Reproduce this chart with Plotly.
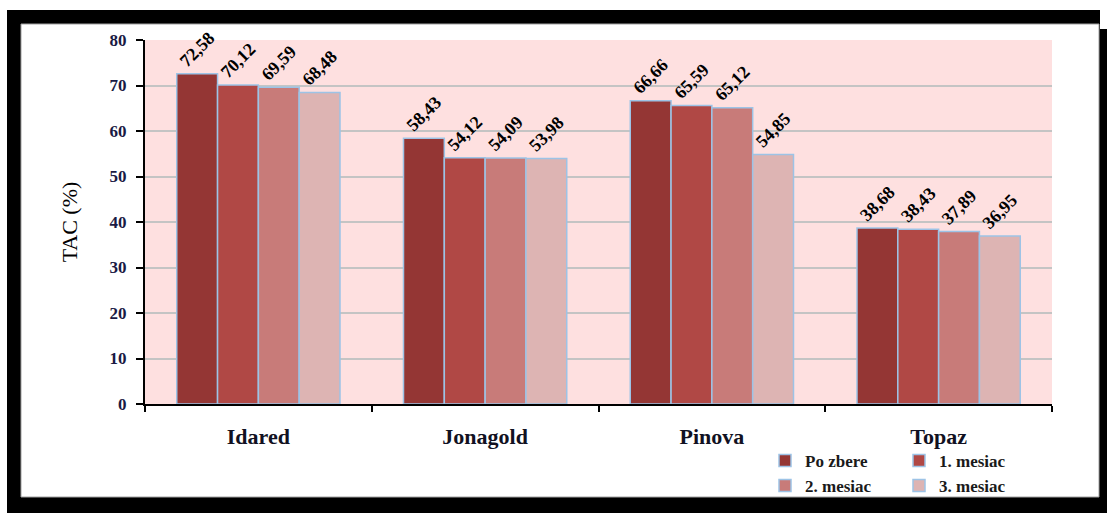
import plotly.graph_objects as go

# Total antioxidant capacity by apple variety and storage time
varieties = ["Idared", "Jonagold", "Pinova", "Topaz"]
series_names = ["Po zbere", "1. mesiac", "2. mesiac", "3. mesiac"]
po_zbere = [72.58, 58.43, 66.66, 38.68]
mesiac_1 = [70.12, 54.12, 65.59, 38.43]
mesiac_2 = [69.59, 54.09, 65.12, 37.89]
mesiac_3 = [68.48, 53.98, 54.85, 36.95]
y_ticks = [0, 10, 20, 30, 40, 50, 60, 70, 80]

series_values = [po_zbere, mesiac_1, mesiac_2, mesiac_3]
colors = ["#943634", "#B04845", "#C87B79", "#DDB4B3"]
legend_ids = ["legend", "legend", "legend2", "legend2"]

W, H = 1109, 513
ML, MR, MT, MB = 145, 57, 40, 109
PW, PH = W - ML - MR, H - MT - MB

def px_x(p):
    return (p - ML) / PW

def px_y(p):
    return (H - MB - p) / PH

SERIF = "Liberation Serif"

fig = go.Figure()
for name, vals, col, lg in zip(series_names, series_values, colors, legend_ids):
    fig.add_trace(go.Bar(
        name=name, x=varieties, y=vals,
        marker=dict(color=col, line=dict(color="#9DC3E6", width=1.5)),
        texttemplate="%{y:.2f}", textposition="outside", textangle=-45,
        constraintext="none", cliponaxis=False,
        textfont=dict(family=SERIF, size=18, color="black", weight="bold"),
        legend=lg,
    ))

def rect(x0, y0, x1, y1, fill, line_color=None, line_width=0):
    return dict(type="rect", xref="paper", yref="paper",
                x0=px_x(x0), x1=px_x(x1), y0=px_y(y0), y1=px_y(y1),
                fillcolor=fill, layer="below",
                line=dict(color=line_color or fill, width=line_width))

shapes = [
    rect(7, 10, 1100, 513, "black"),
    rect(1100, 29, 1107, 513, "black"),
    rect(21, 24, 1099, 497, "white", "#A0A0A0", 1),
    rect(ML, MT, W - MR, H - MB, "#FEE0E0"),
]

legend_font = dict(family=SERIF, size=17, color="#1a1a1a", weight="bold")
fig.update_layout(
    width=W, height=H,
    margin=dict(l=ML, r=MR, t=MT, b=MB, autoexpand=False),
    paper_bgcolor="white", plot_bgcolor="rgba(0,0,0,0)",
    separators=", ",
    barmode="group", bargap=0.28, bargroupgap=0,
    shapes=shapes,
    showlegend=True,
    legend=dict(orientation="h", x=px_x(765), y=px_y(461), xanchor="left", yanchor="middle",
                font=legend_font, entrywidth=89, bgcolor="rgba(0,0,0,0)",
                itemclick=False),
    legend2=dict(orientation="h", x=px_x(765), y=px_y(486), xanchor="left", yanchor="middle",
                 font=legend_font, entrywidth=89, bgcolor="rgba(0,0,0,0)",
                 itemclick=False),
    xaxis=dict(
        showline=True, linecolor="black", linewidth=2,
        ticks="outside", tickson="boundaries", ticklen=6, tickwidth=2, tickcolor="black",
        tickfont=dict(family=SERIF, size=22, color="#111122", weight="bold"),
        ticklabelstandoff=12, showgrid=False,
    ),
    yaxis=dict(
        range=[0, 80], tickvals=y_ticks,
        showline=True, linecolor="black", linewidth=2,
        ticks="outside", ticklen=7, tickwidth=2, tickcolor="black",
        tickfont=dict(family=SERIF, size=17, color="#1a1a44", weight="bold"),
        ticklabelstandoff=6,
        showgrid=True, gridcolor="#C4C4C4", gridwidth=1.5,
        zeroline=False,
        title=dict(text="TAC (%)", font=dict(family=SERIF, size=22, color="black"), standoff=26),
    ),
)

fig.write_html("out.html")
